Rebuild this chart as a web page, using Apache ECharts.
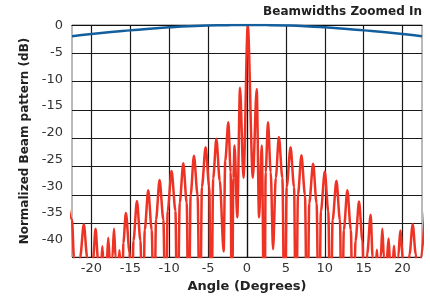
<!DOCTYPE html>
<html>
<head>
<meta charset="utf-8">
<script src="https://cdn.jsdelivr.net/npm/echarts@6/dist/echarts.min.js"></script>
<style>
  html, body { margin: 0; padding: 0; background: #fff; }
  #chart { width: 430px; height: 298px; }
</style>
</head>
<body>
<div id="chart"></div>
<script>
// red: beam pattern, one row per lobe
// (left shoulder, peak, right shoulder, null)
const redAngles = [
  -23.0, -22.5, -22.25, -22.05,
  -21.45, -20.98, -20.55, -20.2,
  -19.8, -19.47, -19.15, -19.0,
  -18.8, -18.6, -18.4, -18.25,
  -18.05, -17.84, -17.6, -17.45,
  -17.3, -17.1, -16.9, -16.75,
  -16.6, -16.4, -16.2, -16.05,
  -15.9, -15.57, -15.1, -14.85,
  -14.6, -14.15, -13.7, -13.4,
  -13.15, -12.7, -12.25, -11.95,
  -11.7, -11.24, -10.75, -10.45,
  -10.2, -9.7, -9.2, -8.95,
  -8.65, -8.19, -7.75, -7.5,
  -7.25, -6.82, -6.35, -6.05,
  -5.8, -5.32, -4.85, -4.6,
  -4.35, -3.94, -3.5, -3.0,
  -2.8, -2.4, -2.1, -1.95,
  -1.75, -1.6, -1.25, -0.9, -0.45, 0.1, 0.75, 1.25, 1.55, 1.9, 2.25,
  2.4, 2.7, 3.05, 3.35,
  3.7, 4.1, 4.55, 4.85,
  5.1, 5.6, 6.05, 6.3,
  6.55, 7.0, 7.45, 7.75,
  8.0, 8.5, 8.95, 9.25,
  9.5, 10.0, 10.45, 10.75,
  11.0, 11.5, 11.95, 12.2,
  12.45, 12.9, 13.35, 13.65,
  13.95, 14.4, 14.85, 15.15,
  15.45, 15.9, 16.15, 16.35,
  16.55, 16.7, 16.85, 17.05,
  17.2, 17.4, 17.6, 17.8,
  17.95, 18.2, 18.4, 18.55,
  18.7, 18.9, 19.1, 19.3,
  19.45, 19.7, 20.1, 20.5,
  20.9, 21.3, 21.7, 22.05,
  22.4, 22.9
];
const redDb = [
  -32, -34.4, -41, -60,
  -41, -35.2, -41, -60,
  -41.5, -36.0, -41.5, -60,
  -43.5, -39.1, -43.5, -60,
  -42.5, -37.6, -42.5, -60,
  -41, -36.0, -41, -60,
  -44, -39.8, -44, -60,
  -38.5, -33.2, -40.2, -60,
  -38.1, -31.1, -38.1, -60,
  -36.2, -29.2, -36.2, -60,
  -34.4, -27.4, -34.4, -60,
  -32.8, -25.8, -32.8, -60,
  -31.4, -24.4, -31.4, -60,
  -30.1, -23.1, -30.1, -60,
  -28.6, -21.6, -28.6, -60,
  -27.1, -20.1, -27.5, -40,
  -24, -17.2, -26, -60,
  -27, -21.3, -34, -11.1, -27, 0, -27, -11.3, -34, -21.3, -60,
  -26, -17.2, -26, -39.6,
  -27, -19.8, -27, -60,
  -28.6, -21.6, -28.6, -60,
  -30, -23.0, -30, -60,
  -31.5, -24.5, -31.5, -60,
  -32.9, -25.9, -32.9, -60,
  -34.5, -27.5, -34.5, -60,
  -36.2, -29.2, -36.2, -60,
  -38.2, -31.2, -38.2, -60,
  -40.5, -33.5, -41, -60,
  -43, -39.7, -43, -60,
  -41, -36.0, -41, -60,
  -42, -37.7, -42, -60,
  -43, -39.0, -43, -60,
  -41, -36.3, -42, -60,
  -40.5, -35.2, -40.5, -60,
  -41, -33
];

// blue: wide beam
const blueAngles = [-22.5, -20, -17.5, -15, -12.5, -10, -7.5, -5, -2.5, 0, 2.5, 5, 7.5, 10, 12.5, 15, 17.5, 20, 22.5];
const blueDb = [-2.0, -1.6, -1.25, -0.95, -0.65, -0.4, -0.2, -0.1, -0.03, 0, -0.02, -0.08, -0.2, -0.4, -0.65, -0.95, -1.25, -1.6, -2.0];

const xTicks = [-20, -15, -10, -5, 0, 5, 10, 15, 20];
const yGrid = [0, -5, -10, -15, -20, -25, -30, -35, -41];
const yLabels = [0, -5, -10, -15, -20, -25, -30, -35, -40];

const font = "DejaVu Sans";

const chart = echarts.init(document.getElementById("chart"));

const option = {
  animation: false,
  textStyle: { fontFamily: font },
  title: {
    text: "Beamwidths Zoomed In",
    right: 8,
    top: 6,
    padding: 0,
    textStyle: { fontFamily: font, fontSize: 12, fontWeight: "bold", color: "#222" },
  },
  grid: {
    left: 72,
    right: 8,
    top: 25,
    bottom: 32,
    show: true,
    borderColor: "#777",
    borderWidth: 1,
  },
  xAxis: {
    type: "value",
    min: -22.5,
    max: 22.5,
    name: "Angle (Degrees)",
    nameLocation: "middle",
    nameGap: 17,
    nameTextStyle: { fontFamily: font, fontSize: 13, fontWeight: "bold", color: "#222" },
    axisLine: { lineStyle: { color: "#111", width: 1.2 } },
    axisTick: { customValues: xTicks, length: 3, lineStyle: { color: "#111" } },
    axisLabel: {
      customValues: xTicks,
      margin: 5,
      fontSize: 13,
      color: "#333",
      formatter: (v) => String(v),
    },
    splitLine: { show: true, lineStyle: { color: "#1a1a1a", width: 1.2 } },
  },
  yAxis: [
    {
      type: "value",
      min: -41,
      max: 0,
      name: "Normalized Beam pattern (dB)",
      nameLocation: "middle",
      nameGap: 41,
      nameTextStyle: { fontFamily: font, fontSize: 12, fontWeight: "bold", color: "#222" },
      axisLine: { show: true, lineStyle: { color: "#111", width: 1.2 } },
      axisTick: { show: true, customValues: yGrid, length: 4, lineStyle: { color: "#111" } },
      axisLabel: { show: false },
      splitLine: { show: true, lineStyle: { color: "#1a1a1a", width: 1.2 } },
    },
    {
      // labels only, they sit a bit higher than the grid lines in the original
      type: "value",
      position: "left",
      min: -43.3,
      max: 0.2,
      axisLine: { show: false },
      axisTick: { show: false },
      splitLine: { show: false },
      axisLabel: {
        customValues: yLabels,
        margin: 9,
        fontSize: 13,
        color: "#333",
        formatter: (v) => String(v),
      },
    },
  ],
  series: [
    {
      name: "Beam",
      type: "line",
      yAxisIndex: 0,
      data: redAngles.map((a, i) => [a, redDb[i]]),
      showSymbol: false,
      smooth: 0.3,
      smoothMonotone: "x",
      clip: true,
      lineStyle: { color: "#ee3224", width: 2.5 },
      z: 2,
    },
    {
      name: "Wide",
      type: "line",
      yAxisIndex: 0,
      data: blueAngles.map((a, i) => [a, blueDb[i]]),
      showSymbol: false,
      smooth: true,
      clip: true,
      lineStyle: { color: "#135f9e", width: 2.5 },
      z: 3,
    },
  ],
};

chart.setOption(option);
</script>
</body>
</html>
